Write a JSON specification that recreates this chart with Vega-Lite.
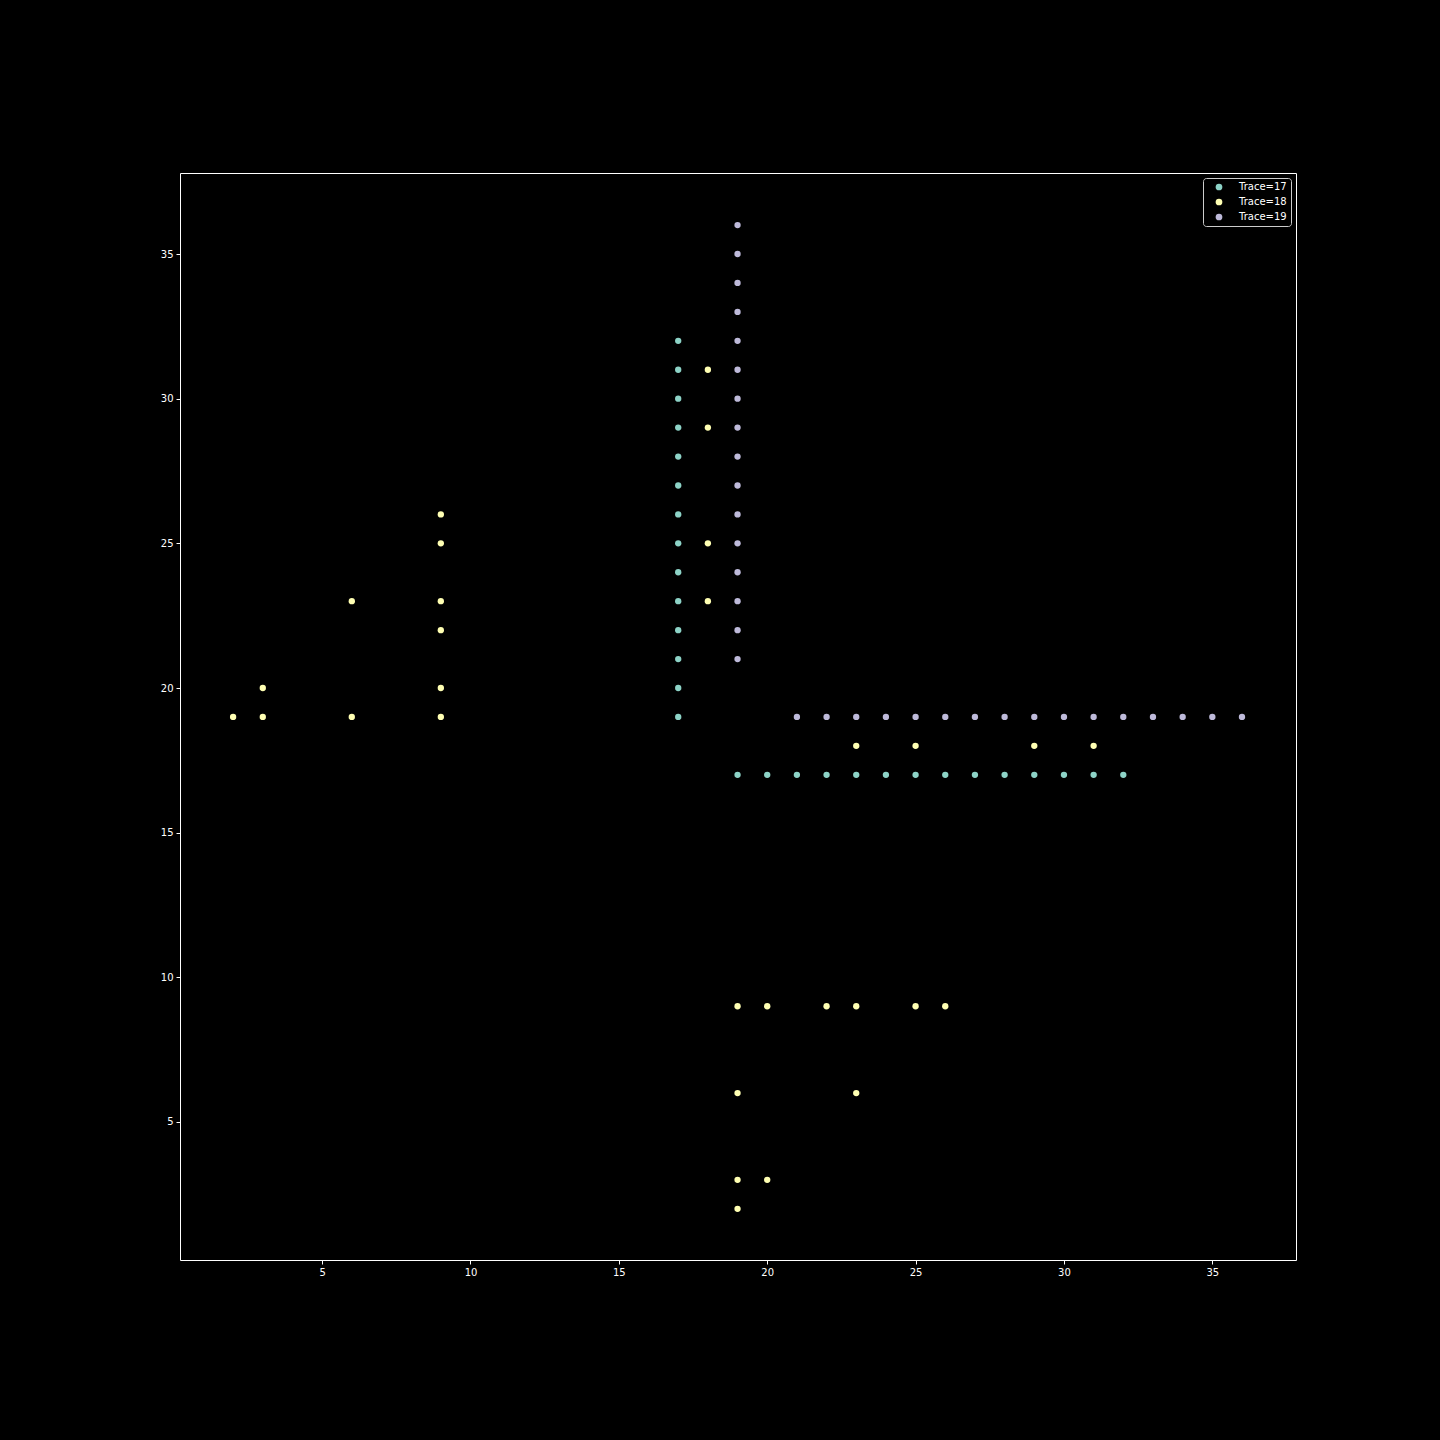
{
  "$schema": "https://vega.github.io/schema/vega-lite/v6.json",
  "width": 1116,
  "height": 1087,
  "autosize": "none",
  "padding": {"left": 180, "top": 173, "right": 144, "bottom": 180},
  "background": "#000000",
  "config": {
    "view": {"stroke": "#ffffff", "strokeWidth": 1},
    "font": "DejaVu Sans",
    "axis": {
      "grid": false,
      "domain": false,
      "tickColor": "#ffffff",
      "tickSize": 4,
      "labelColor": "#ffffff",
      "labelFontSize": 10,
      "labelFont": "DejaVu Sans",
      "labelPadding": 3,
      "title": null
    },
    "legend": {
      "labelColor": "#ffffff",
      "labelFontSize": 10,
      "labelFont": "DejaVu Sans"
    }
  },
  "data": {
    "values": [
      {"trace": "Trace=17", "x": 17, "y": 19},
      {"trace": "Trace=17", "x": 17, "y": 20},
      {"trace": "Trace=17", "x": 17, "y": 21},
      {"trace": "Trace=17", "x": 17, "y": 22},
      {"trace": "Trace=17", "x": 17, "y": 23},
      {"trace": "Trace=17", "x": 17, "y": 24},
      {"trace": "Trace=17", "x": 17, "y": 25},
      {"trace": "Trace=17", "x": 17, "y": 26},
      {"trace": "Trace=17", "x": 17, "y": 27},
      {"trace": "Trace=17", "x": 17, "y": 28},
      {"trace": "Trace=17", "x": 17, "y": 29},
      {"trace": "Trace=17", "x": 17, "y": 30},
      {"trace": "Trace=17", "x": 17, "y": 31},
      {"trace": "Trace=17", "x": 17, "y": 32},
      {"trace": "Trace=17", "x": 19, "y": 17},
      {"trace": "Trace=17", "x": 20, "y": 17},
      {"trace": "Trace=17", "x": 21, "y": 17},
      {"trace": "Trace=17", "x": 22, "y": 17},
      {"trace": "Trace=17", "x": 23, "y": 17},
      {"trace": "Trace=17", "x": 24, "y": 17},
      {"trace": "Trace=17", "x": 25, "y": 17},
      {"trace": "Trace=17", "x": 26, "y": 17},
      {"trace": "Trace=17", "x": 27, "y": 17},
      {"trace": "Trace=17", "x": 28, "y": 17},
      {"trace": "Trace=17", "x": 29, "y": 17},
      {"trace": "Trace=17", "x": 30, "y": 17},
      {"trace": "Trace=17", "x": 31, "y": 17},
      {"trace": "Trace=17", "x": 32, "y": 17},
      {"trace": "Trace=18", "x": 2, "y": 19},
      {"trace": "Trace=18", "x": 3, "y": 19},
      {"trace": "Trace=18", "x": 3, "y": 20},
      {"trace": "Trace=18", "x": 6, "y": 19},
      {"trace": "Trace=18", "x": 6, "y": 23},
      {"trace": "Trace=18", "x": 9, "y": 19},
      {"trace": "Trace=18", "x": 9, "y": 20},
      {"trace": "Trace=18", "x": 9, "y": 22},
      {"trace": "Trace=18", "x": 9, "y": 23},
      {"trace": "Trace=18", "x": 9, "y": 25},
      {"trace": "Trace=18", "x": 9, "y": 26},
      {"trace": "Trace=18", "x": 18, "y": 23},
      {"trace": "Trace=18", "x": 18, "y": 25},
      {"trace": "Trace=18", "x": 18, "y": 29},
      {"trace": "Trace=18", "x": 18, "y": 31},
      {"trace": "Trace=18", "x": 23, "y": 18},
      {"trace": "Trace=18", "x": 25, "y": 18},
      {"trace": "Trace=18", "x": 29, "y": 18},
      {"trace": "Trace=18", "x": 31, "y": 18},
      {"trace": "Trace=18", "x": 19, "y": 9},
      {"trace": "Trace=18", "x": 20, "y": 9},
      {"trace": "Trace=18", "x": 22, "y": 9},
      {"trace": "Trace=18", "x": 23, "y": 9},
      {"trace": "Trace=18", "x": 25, "y": 9},
      {"trace": "Trace=18", "x": 26, "y": 9},
      {"trace": "Trace=18", "x": 19, "y": 6},
      {"trace": "Trace=18", "x": 23, "y": 6},
      {"trace": "Trace=18", "x": 19, "y": 3},
      {"trace": "Trace=18", "x": 20, "y": 3},
      {"trace": "Trace=18", "x": 19, "y": 2},
      {"trace": "Trace=19", "x": 19, "y": 21},
      {"trace": "Trace=19", "x": 19, "y": 22},
      {"trace": "Trace=19", "x": 19, "y": 23},
      {"trace": "Trace=19", "x": 19, "y": 24},
      {"trace": "Trace=19", "x": 19, "y": 25},
      {"trace": "Trace=19", "x": 19, "y": 26},
      {"trace": "Trace=19", "x": 19, "y": 27},
      {"trace": "Trace=19", "x": 19, "y": 28},
      {"trace": "Trace=19", "x": 19, "y": 29},
      {"trace": "Trace=19", "x": 19, "y": 30},
      {"trace": "Trace=19", "x": 19, "y": 31},
      {"trace": "Trace=19", "x": 19, "y": 32},
      {"trace": "Trace=19", "x": 19, "y": 33},
      {"trace": "Trace=19", "x": 19, "y": 34},
      {"trace": "Trace=19", "x": 19, "y": 35},
      {"trace": "Trace=19", "x": 19, "y": 36},
      {"trace": "Trace=19", "x": 21, "y": 19},
      {"trace": "Trace=19", "x": 22, "y": 19},
      {"trace": "Trace=19", "x": 23, "y": 19},
      {"trace": "Trace=19", "x": 24, "y": 19},
      {"trace": "Trace=19", "x": 25, "y": 19},
      {"trace": "Trace=19", "x": 26, "y": 19},
      {"trace": "Trace=19", "x": 27, "y": 19},
      {"trace": "Trace=19", "x": 28, "y": 19},
      {"trace": "Trace=19", "x": 29, "y": 19},
      {"trace": "Trace=19", "x": 30, "y": 19},
      {"trace": "Trace=19", "x": 31, "y": 19},
      {"trace": "Trace=19", "x": 32, "y": 19},
      {"trace": "Trace=19", "x": 33, "y": 19},
      {"trace": "Trace=19", "x": 34, "y": 19},
      {"trace": "Trace=19", "x": 35, "y": 19},
      {"trace": "Trace=19", "x": 36, "y": 19}
    ]
  },
  "mark": {"type": "circle", "size": 40, "opacity": 1},
  "encoding": {
    "x": {
      "field": "x",
      "type": "quantitative",
      "scale": {"domain": [0.21, 37.82], "nice": false, "zero": false},
      "axis": {"values": [5, 10, 15, 20, 25, 30, 35]}
    },
    "y": {
      "field": "y",
      "type": "quantitative",
      "scale": {"domain": [0.23, 37.8], "nice": false, "zero": false},
      "axis": {"values": [5, 10, 15, 20, 25, 30, 35]}
    },
    "color": {
      "field": "trace",
      "type": "nominal",
      "scale": {
        "domain": ["Trace=17", "Trace=18", "Trace=19"],
        "range": ["#8dd3c7", "#ffffb3", "#bebada"]
      },
      "legend": {
        "title": null,
        "orient": "top-right",
        "offset": 5,
        "padding": 4,
        "rowPadding": 5,
        "strokeColor": "#cccccc",
        "fillColor": "#000000",
        "cornerRadius": 3,
        "symbolSize": 45,
        "symbolType": "circle",
        "symbolOffset": 7,
        "labelOffset": 15
      }
    }
  }
}
